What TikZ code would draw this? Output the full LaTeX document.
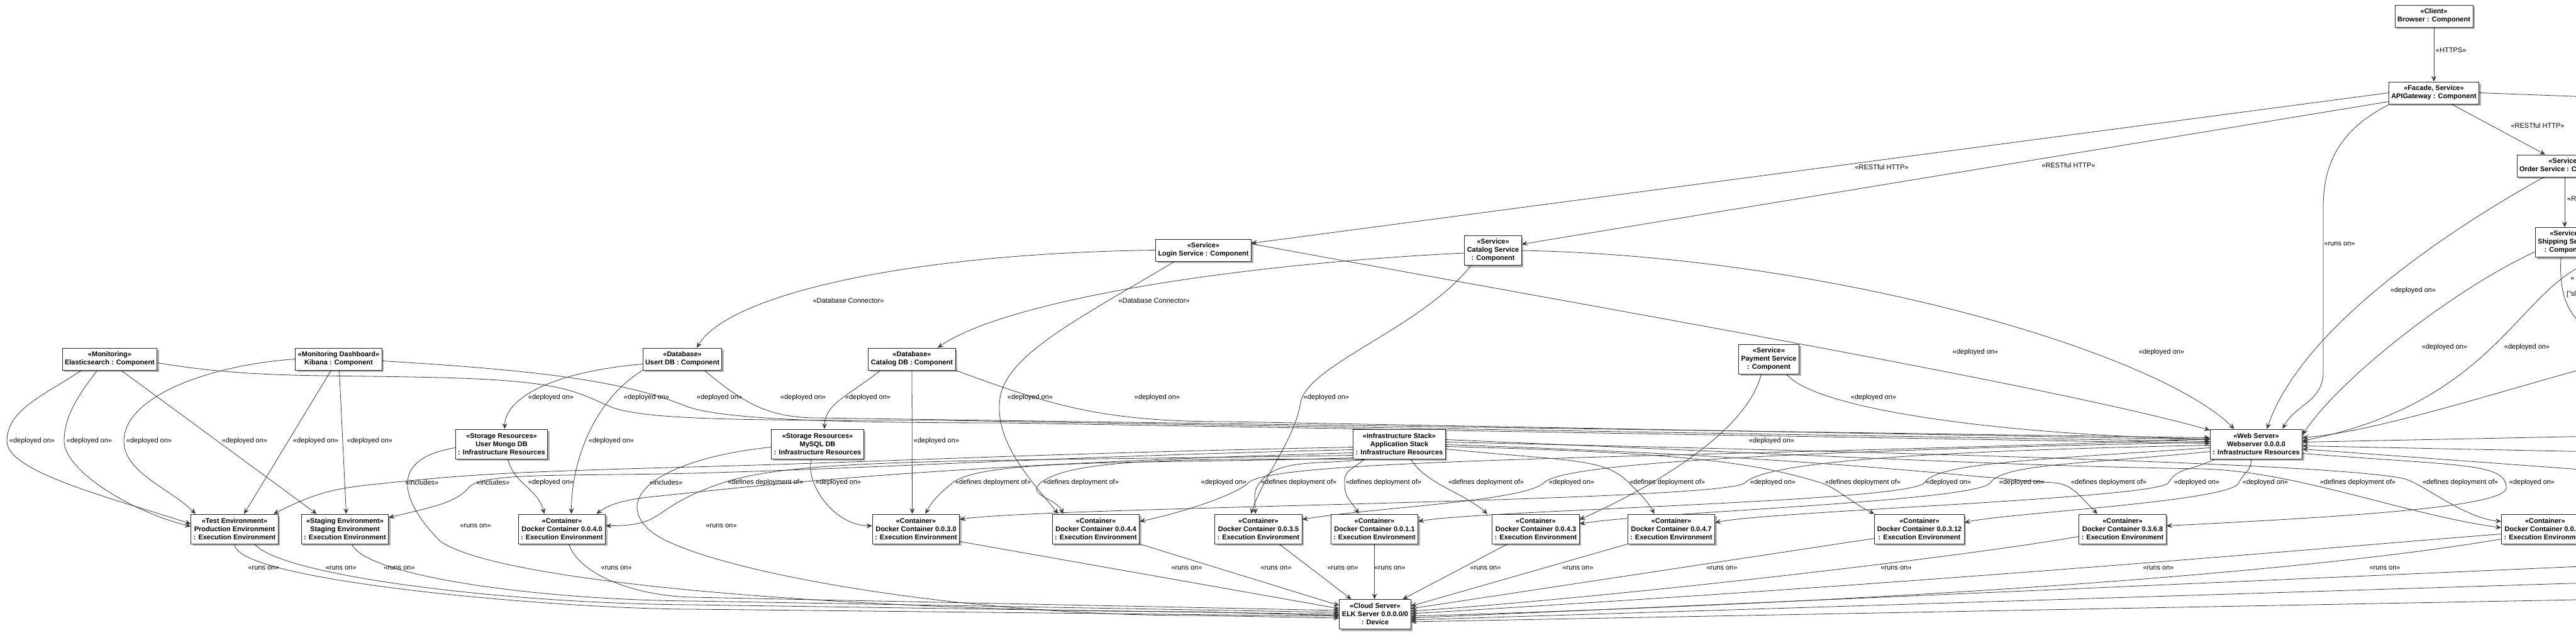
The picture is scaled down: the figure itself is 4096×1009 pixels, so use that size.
\documentclass[tikz,border=0pt]{standalone}
\usepackage{fontspec}
\setmainfont{Liberation Sans}
\usetikzlibrary{arrows.meta,shadows,backgrounds}

\begin{document}
\begin{tikzpicture}[x=1pt, y=-1pt,
  box/.style={draw=black!85, line width=1pt, fill=white, align=center,
    font=\fontsize{11}{13}\selectfont\bfseries, inner xsep=4pt, inner ysep=5pt,
    minimum height=35pt,
    drop shadow={shadow xshift=3pt, shadow yshift=-3pt, opacity=0.3, fill=black}},
  box3/.style={box, minimum height=47pt},
  dep/.style={draw=black!78, line width=0.8pt, -{Stealth[length=9pt, width=8pt, inset=3.5pt]}},
  lbl/.style={font=\fontsize{11}{13}\selectfont, inner sep=0pt},
]
\useasboundingbox (0,0) rectangle (4096,1009);

% ends of the connectors that leave the picture on the right
\coordinate (offA) at (4200,157);
\coordinate (offB) at (4110,420);
\coordinate (offC) at (4130,530);
\coordinate (offD) at (4130,580);
\coordinate (offE) at (4130,693);
\coordinate (offF) at (4130,718);
\coordinate (offG) at (4130,748);
\coordinate (offH) at (4150,898);
\coordinate (offI) at (4150,925);
\coordinate (offJ) at (4150,952);

% components
\node[box] (br) at (3870,25.5) {«Client»\\Browser : Component};
\node[box] (api) at (3870,147.5) {«Facade, Service»\\APIGateway : Component};
\node[box] (order) at (4078,263.5) {«Service»\\Order Service : Component};
\node[box3] (ship) at (4080,385) {«Service»\\Shipping Service\\: Component};
\node[box] (login) at (1913.5,397.5) {«Service»\\Login Service : Component};
\node[box3] (catsvc) at (2374,398) {«Service»\\Catalog Service\\: Component};
\node[box] (es) at (174.5,570.5) {«Monitoring»\\Elasticsearch : Component};
\node[box] (kib) at (538.5,570.5) {«Monitoring Dashboard»\\Kibana : Component};
\node[box] (userdb) at (1085,570.5) {«Database»\\Usert DB : Component};
\node[box] (catdb) at (1450,570.5) {«Database»\\Catalog DB : Component};
\node[box3] (pay) at (2812.5,570.5) {«Service»\\Payment Service\\: Component};

% resources
\node[box3] (mongo) at (797.5,705.5) {«Storage Resources»\\User Mongo DB\\: Infrastructure Resources};
\node[box3] (mysql) at (1300,705.5) {«Storage Resources»\\MySQL DB\\: Infrastructure Resources};
\node[box3] (stack) at (2225,705.5) {«Infrastructure Stack»\\Application Stack\\: Infrastructure Resources};
\node[box3] (ws) at (3587.5,705.5) {«Web Server»\\Webserver 0.0.0.0\\: Infrastructure Resources};

% execution environments
\node[box3] (testenv) at (373,840.5) {«Test Environment»\\Production Environment\\: Execution Environment};
\node[box3] (stage) at (548.5,840.5) {«Staging Environment»\\Staging Environment\\: Execution Environment};
\foreach \n/\x/\v in {dc040/893.5/0.0.4.0, dc030/1456.5/0.0.3.0, dc044/1742.5/0.0.4.4,
    dc035/2001/0.0.3.5, dc011/2185.5/0.0.1.1, dc043/2442/0.0.4.3, dc047/2657.5/0.0.4.7,
    dc0312/3052/0.0.3.12, dc368/3375/0.3.6.8}
  \node[box3] (\n) at (\x,840.5) {«Container»\\Docker Container \v\\: Execution Environment};
\node[box3, anchor=west] (dcx) at (3977,840.5) {«Container»\\Docker Container 0.0.\phantom{0.0}\\: Execution Environment};
\node[box3] (elk) at (2186.5,976) {«Cloud Server»\\ELK Server 0.0.0.0/0\\: Device};

\begin{scope}[on background layer]
\fill[white] (0,0) rectangle (4096,1009);

% gateway and services
\draw[dep] (br) -- (api);
\draw[dep] ([xshift=28]api.south) -- ([xshift=-31]order.north);
\draw[dep] (api.west) -- ([yshift=11]login.east);
\draw[dep] ([yshift=-14]api.west) -- ([yshift=10]catsvc.east);
\draw[dep] (api.east) -- (offA);
\draw[dep] ([xshift=-70]api.south) .. controls +(-80,40) and +(0,-70) .. (3694,330) -- (3694,590)
  .. controls +(0,50) and +(20,-40) .. ([xshift=42]ws.north);
\draw[dep] (order.south) -- (order.south |- ship.north);
\draw[dep] ([xshift=-33]order.south) .. controls +(-145,80) and +(55,-162) .. ([xshift=17]ws.north);
\draw[dep] ([yshift=-15]ship.west) .. controls +(-130,60) and +(60,-90) .. ([yshift=15]ws.east);
\draw[dep] (offB) .. controls +(-110,50) and +(300,-60) .. ([yshift=5]ws.east);
\draw[dep] ([xshift=-8]ship.south) .. controls +(-4,70) and +(-40,-20) .. (offC);
\draw[dep] (offD) .. controls +(-150,40) and +(120,-10) .. ([yshift=10]ws.east);
\draw[dep] (offE) -- ([yshift=3]ws.east);
\draw[dep] (offF) -- ([yshift=-3]ws.east);
\draw[dep] (offG) -- ([yshift=-8]ws.east);

% services to databases and servers
\draw[dep] (login.west) .. controls +(-390,5) and +(50,-85) .. ([xshift=23]userdb.north);
\draw[dep] ([yshift=-4]catsvc.west) .. controls +(-400,20) and +(100,-70) .. ([xshift=41]catdb.north);
\draw[dep] ([xshift=-46]login.south) .. controls +(-150,90) and +(10,-70) .. (1590,633)
  .. controls +(-10,70) and +(-40,-50) .. ([xshift=-60]dc044.north);
\draw[dep] ([yshift=10]login.east) .. controls +(600,110) and +(-250,-70) .. ([yshift=22]ws.west);
\draw[dep] ([xshift=-35]catsvc.south) .. controls +(-80,100) and +(10,-60) .. (2068,640)
  .. controls +(-10,60) and +(20,-60) .. ([xshift=-12]dc035.north);
\draw[dep] (catsvc.east) .. controls +(500,10) and +(-120,-120) .. ([xshift=-35]ws.north);
\draw[dep] ([xshift=28]pay.south) .. controls +(50,60) and +(-300,-5) .. ([yshift=8]ws.west);
\draw[dep] ([xshift=-12]pay.south) .. controls +(-25,100) and +(90,-40) .. ([yshift=15]dc043.east);

% databases
\draw[dep] ([yshift=-8]userdb.west) .. controls +(-140,12) and +(0,-50) .. ([xshift=5]mongo.north);
\draw[dep] (userdb.south west) .. controls +(-80,50) and +(0,-80) .. ([xshift=15]dc040.north);
\draw[dep] ([xshift=35]userdb.south) .. controls +(60,50) and +(-80,0) .. (1300,664) -- ([yshift=10]ws.west);
\draw[dep] ([xshift=-50]catdb.south) .. controls +(-50,40) and +(0,-40) .. ([xshift=11]mysql.north);
\draw[dep] (catdb.south) -- ([xshift=-6]dc030.north);
\draw[dep] (catdb.south east) .. controls +(150,55) and +(-200,0) .. (1950,670) -- ([yshift=7]ws.west);

% monitoring
\draw[dep] ([xshift=-45]es.south) .. controls +(-60,40) and +(0,-50) .. (11,701)
  .. controls +(0,50) and +(-120,-40) .. ([yshift=8]testenv.west);
\draw[dep] ([xshift=-20]es.south) .. controls +(-30,40) and +(0,-40) .. (102,701)
  .. controls +(0,45) and +(-100,-25) .. ([yshift=4]testenv.west);
\draw[dep] ([xshift=18]es.south) -- ([xshift=-45]stage.north);
\draw[dep] ([yshift=-6]es.east) .. controls +(150,25) and +(-200,-5) .. (700,600)
  .. controls +(200,5) and +(-60,-25) .. (975,648) .. controls +(60,20) and +(-300,0) .. (1500,668)
  -- ([yshift=4]ws.west);
\draw[dep] (kib.west) .. controls +(-140,10) and +(0,-70) .. (197,701)
  .. controls +(0,50) and +(-40,-40) .. ([xshift=-62]testenv.north);
\draw[dep] ([xshift=-12]kib.south) -- ([xshift=15]testenv.north);
\draw[dep] ([xshift=1]kib.south) -- ([xshift=2]stage.north);
\draw[dep] ([yshift=-3]kib.east) .. controls +(250,15) and +(-100,-40) .. (1090,645)
  .. controls +(50,20) and +(-300,0) .. (1600,672) -- ([yshift=1]ws.west);

% storage resources
\draw[dep] ([xshift=10]mongo.south) .. controls +(10,40) and +(-10,-40) .. ([xshift=-28]dc040.north);
\draw[dep] ([yshift=-6]mongo.west) .. controls +(-120,20) and +(-50,-50) .. (700,860)
  .. controls +(100,70) and +(-500,0) .. (1900,972) -- ([yshift=-2]elk.west);
\draw[dep] ([xshift=-10]mysql.south) .. controls +(-10,40) and +(-60,0) .. ([yshift=5]dc030.west);
\draw[dep] ([yshift=-5]mysql.west) .. controls +(-150,15) and +(-60,-60) .. (1030,840)
  .. controls +(60,60) and +(-400,0) .. (1900,978) -- ([yshift=-6]elk.west);

% application stack
\draw[dep] ([yshift=-5]stack.west) .. controls +(-500,10) and +(300,-8) .. (1100,742)
  .. controls +(-300,8) and +(100,-10) .. (640,765) .. controls +(-100,10) and +(80,-40) .. ([xshift=62]testenv.north);
\draw[dep] ([yshift=-9]stack.west) .. controls +(-500,12) and +(300,-8) .. (1100,752)
  .. controls +(-200,5) and +(20,-25) .. (745,775) .. controls +(-20,25) and +(60,-15) .. ([yshift=18]stage.east);
\draw[dep] ([yshift=-14]stack.west) .. controls +(-700,20) and +(150,-15) .. (1030,790)
  .. controls +(-40,5) and +(20,-15) .. ([xshift=55]dc040.north);
\draw[dep] ([yshift=-18]stack.west) .. controls +(-600,10) and +(120,-40) .. (1150,767)
  .. controls +(-120,40) and +(100,0) .. ([yshift=5]dc040.east);
\draw[dep] ([yshift=-22]stack.west) .. controls +(-300,10) and +(50,-40) .. (1515,767)
  .. controls +(-20,16) and +(10,-20) .. ([xshift=15]dc030.north);
\draw[dep] (stack.south west) .. controls +(-250,0) and +(50,-40) .. (1655,767)
  .. controls +(-25,20) and +(-10,-25) .. ([xshift=-52]dc044.north);
\draw[dep] ([xshift=-50]stack.south) .. controls +(-80,10) and +(30,-40) .. (2003,767)
  .. controls +(-12,16) and +(0,-25) .. ([xshift=-5]dc035.north);
\draw[dep] ([xshift=-55]stack.south) .. controls +(-25,20) and +(0,-20) .. (2138,767)
  .. controls +(0,25) and +(-15,-25) .. ([xshift=-25]dc011.north);
\draw[dep] ([xshift=18]stack.south) .. controls +(25,40) and +(-40,-35) .. ([xshift=-77]dc043.north);
\draw[dep] ([yshift=-8]stack.east) .. controls +(200,20) and +(-40,-40) .. (2590,767)
  .. controls +(12,12) and +(-10,-20) .. ([xshift=-27]dc047.north);
\draw[dep] ([yshift=-4]stack.east) .. controls +(400,10) and +(-100,-30) .. (2895,767)
  .. controls +(25,7.5) and +(-40,-20) .. (dc0312.north west);
\draw[dep] ([yshift=-1]stack.east) .. controls +(600,20) and +(-150,-10) .. (3265,767)
  .. controls +(30,2) and +(-30,-30) .. ([xshift=-40]dc368.north);
\draw[dep] ([yshift=3]stack.east) .. controls +(900,20) and +(-100,-20) .. (3820,760)
  .. controls +(30,6) and +(-60,-5) .. ([yshift=12]dcx.west);
\draw[dep] ([yshift=7]stack.east) .. controls +(700,30) and +(-300,-5) .. (3500,745)
  .. controls +(150,3) and +(-150,-20) .. ([yshift=2]dcx.west);

% web server
\draw[dep] ([xshift=-8]ws.south) .. controls +(0,20) and +(10,-20) .. (3560,767)
  .. controls +(-10,30) and +(60,-15) .. ([yshift=10]dc0312.east);
\draw[dep] ([xshift=-66]ws.south) .. controls +(-40,20) and +(15,-25) .. (3448,767)
  .. controls +(-15,25) and +(80,-18) .. ([yshift=10]dc047.east);
\draw[dep] ([yshift=-12]ws.west) .. controls +(-200,20) and +(20,-30) .. (3165,767)
  .. controls +(-20,30) and +(100,-18) .. ([yshift=8]dc043.east);
\draw[dep] ([yshift=-6]ws.west) .. controls +(-300,20) and +(20,-30) .. (3060,767)
  .. controls +(-20,30) and +(100,-18) .. ([yshift=12]dc011.east);
\draw[dep] ([yshift=-2]ws.west) .. controls +(-500,10) and +(30,-30) .. (2775,767)
  .. controls +(-30,30) and +(120,-20) .. ([yshift=15]dc030.east);
\draw[dep] ([yshift=3]ws.west) .. controls +(-700,15) and +(30,-30) .. (2455,767)
  .. controls +(-30,30) and +(100,-18) .. ([yshift=15]dc035.east);
\draw[dep] ([yshift=8]ws.west) .. controls +(-800,30) and +(40,-40) .. (1985,767)
  .. controls +(-20,20) and +(60,-12) .. ([yshift=12]dc044.east);
\draw[dep] ([yshift=-15]ws.east) .. controls +(250,20) and +(0,-40) .. (3985,775)
  .. controls +(0,30) and +(300,-15) .. ([yshift=5]dc368.east);

% environments run on the cloud server
\draw[dep] (testenv.south) .. controls +(0,60) and +(-200,0) .. (1100,968) -- ([yshift=-3]elk.west);
\draw[dep] ([xshift=32]testenv.south) .. controls +(40,50) and +(-300,-2) .. (1100,961) -- (elk.west);
\draw[dep] ([xshift=11]stage.south) .. controls +(20,50) and +(-250,-2) .. (1100,955) -- ([yshift=3]elk.west);
\draw[dep] ([xshift=11]dc040.south) .. controls +(15,45) and +(-100,-3) .. (1100,949) -- ([yshift=6]elk.west);
\draw[dep] ([yshift=-20]dc030.east) -- ([yshift=9]elk.west);
\draw[dep] (dc044.south east) -- ([yshift=14]elk.west);
\draw[dep] ([xshift=33]dc035.south) -- ([xshift=-38]elk.north);
\draw[dep] (dc011.south) -- (dc011.south |- elk.north);
\draw[dep] ([xshift=-45]dc043.south) -- ([xshift=44]elk.north);
\draw[dep] (dc047.south west) -- ([yshift=13]elk.east);
\draw[dep] ([yshift=-15]dc0312.west) -- ([yshift=9]elk.east);
\draw[dep] ([yshift=-12]dc368.west) .. controls +(-200,35) and +(300,-20) .. ([yshift=5]elk.east);
\draw[dep] ([yshift=-8]dcx.west) .. controls +(-280,22) and +(850,-50) .. ([yshift=1]elk.east);
\draw[dep] ([yshift=-16]dcx.west) .. controls +(-280,48) and +(850,-25) .. ([yshift=-3]elk.east);
\draw[dep] (offH) -- ([yshift=-6]elk.east);
\draw[dep] (offI) -- ([yshift=-9]elk.east);
\draw[dep] (offJ) -- ([yshift=-12]elk.east);
\end{scope}

% connector labels
\node[lbl, anchor=west] (l-https) at (3873,80) {«HTTPS»};
\node[lbl] (l-rest1) at (2992,266) {«RESTful HTTP»};
\node[lbl] (l-rest2) at (3289,263) {«RESTful HTTP»};
\node[lbl] (l-rest3) at (4035,200) {«RESTful HTTP»};
\node[lbl, anchor=west] (l-rest4) at (4082,316) {«RESTful HTTP»};
\node[lbl, anchor=west] (l-ship1) at (4087,443) {«};
\node[lbl, anchor=west] (l-ship2) at (4081,468) {["sl};
\node[lbl] (l-runs) at (3720,388) {«runs on»};
\node[lbl] (l-dbc1) at (1349,478) {«Database Connector»};
\node[lbl] (l-dbc2) at (1835,478) {«Database Connector»};
\foreach \x/\y in {3837/462, 3887/552, 4018/552, 3141/560, 3437/560}
  \node[lbl] (d\y-\x) at (\x,\y) {«deployed on»};
\foreach \x in {876,1028,1144,1277,1380,1638,1840,2109,2979}
  \node[lbl] (d632-\x) at (\x,632) {«deployed on»};
\foreach \x in {51,142,237,389,502,588,972,1489,2817}
  \node[lbl] (d701-\x) at (\x,701) {«deployed on»};
\foreach \x in {876,1333,1946,2499,2819,3098,3215,3493,3602,4026}
  \node[lbl] (d767-\x) at (\x,767) {«deployed on»};
\foreach \x in {1217,1579,1719,2065,2200,2363,2651,2962,3353,3749,3912}
  \node[lbl] (f767-\x) at (\x,767) {«defines deployment of»};
\foreach \x in {671,784,1059}
  \node[lbl] (i767-\x) at (\x,767) {«includes»};
\foreach \x in {756,1147}
  \node[lbl] (r836-\x) at (\x,836) {«runs on»};
\foreach \x in {419,542,635,980,1887,2029,2135,2210,2362,2509,2738,3015,3432,3792}
  \node[lbl] (r903-\x) at (\x,903) {«runs on»};
\end{tikzpicture}
\end{document}
